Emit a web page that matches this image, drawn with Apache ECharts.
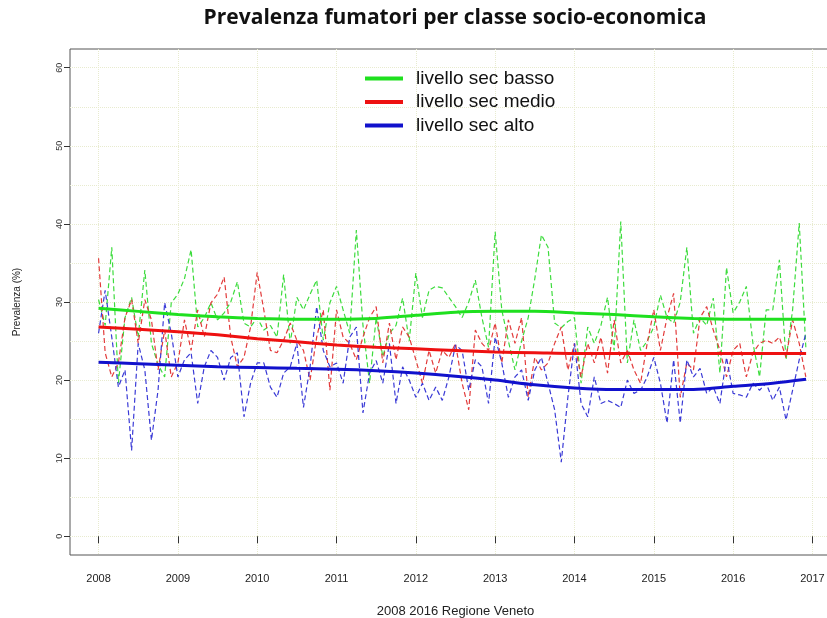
<!DOCTYPE html>
<html>
<head>
<meta charset="utf-8">
<title>Prevalenza fumatori per classe socio-economica</title>
<script src="https://cdn.jsdelivr.net/npm/echarts@6/dist/echarts.min.js"></script>
<style>
  html, body { margin: 0; padding: 0; background: #fff; }
  #chart { width: 827px; height: 618px; }
</style>
</head>
<body>
<div id="chart"></div>
<script>
const seriesNames = ['livello sec basso', 'livello sec medio', 'livello sec alto']
const yearTicks = [2008, 2009, 2010, 2011, 2012, 2013, 2014, 2015, 2016, 2017]
const valueTicks = [0, 10, 20, 30, 40, 50, 60]
const gridValues = [0, 5, 10, 15, 20, 25, 30, 35, 40, 45, 50, 55, 60]
const firstYear = 2008

// valori mensili gen 2008 - dic 2016
const basso = [
  30.3, 27, 37, 19.6, 28, 30.6, 25.5, 34.1, 24.7, 22, 20.4, 29.9,
  31, 33, 36.7, 26.8, 28, 29.9, 27.7, 28.6, 30, 32.6, 27.3, 26.8,
  28, 26.4, 27, 25.5, 33.5, 24.7, 30.6, 29, 31, 32.8, 25.1, 29.9,
  32, 29, 26, 39.2, 27, 19.6, 28, 23, 26, 27, 30.5, 25,
  33.7, 28, 31.5, 32, 31.8, 30.6, 29.4, 28, 30, 32.8, 28, 24.2,
  39, 29, 25, 21.3, 25, 28, 33, 38.6, 37, 27.3, 26.7, 27.5,
  28, 19.6, 26.8, 24.7, 27, 30.6, 23.8, 40.3, 22.2, 27.7, 23.8, 25,
  26.8, 30.9, 28, 27.3, 30, 37, 26, 28, 27, 30.5, 20.9, 34.4,
  28.6, 30, 32, 24.7, 20.4, 29, 29, 35.4, 22.6, 29, 40.1, 24.2
]
const medio = [
  35.6, 23.5, 20.4, 22.2, 28, 30.3, 24.7, 30.3, 27.7, 21.3, 26.4, 20.4,
  22.2, 27.7, 23.8, 29, 25.5, 29.9, 31, 33.2, 25.5, 21.7, 22.9, 26.8,
  33.8, 29, 23.8, 23.5, 25.1, 27.3, 25.1, 23.8, 20, 25.5, 29, 18.7,
  29, 25.5, 24.7, 22.6, 25.5, 28, 29.4, 22.2, 27.3, 22.6, 26.8, 25.5,
  22.6, 19.6, 23.8, 20.9, 23.8, 22.9, 24.7, 19.6, 16.2, 26.4, 24.7, 23.8,
  27.3, 22.2, 27.7, 24.7, 28, 17.8, 22.9, 21.3, 22.2, 24.7, 26.8, 21.3,
  24.7, 20.4, 24.7, 22.2, 25.5, 20.9, 27.7, 22.2, 23.8, 21.3, 19.6, 24.7,
  29, 23.8, 28, 31.1, 17.8, 22.2, 21.3, 28, 29.4, 26.4, 23.8, 20.4,
  23.8, 24.7, 20.4, 23.5, 24.7, 25.1, 24.7, 25.5, 22.9, 27.7, 24.7, 20.4
]
const alto = [
  26, 31.5, 25.5, 19.1, 21.3, 11, 24.7, 21.3, 12.3, 18.7, 29.9, 26,
  20.4, 22.6, 23.5, 17, 21.7, 23.8, 22.9, 20, 22.9, 23.5, 15.3, 19.6,
  22.2, 22.2, 19.1, 17.8, 20.9, 21.7, 24.7, 16.5, 21.7, 29.4, 23.8, 21.7,
  22.2, 19.6, 25.5, 26.8, 15.8, 20.9, 22.5, 19.6, 24.7, 17, 21.7, 20,
  17.8, 19.6, 17.4, 19.1, 17.4, 20.4, 24.5, 23.8, 18.7, 22.6, 21.7, 17,
  25.5, 22.2, 17.8, 20.4, 21.3, 17.4, 21.3, 22.9, 19.6, 16.2, 9.5, 17.8,
  24.7, 17, 15.3, 20.4, 17, 17.4, 17, 16.5, 20, 18.3, 18.7, 20.4,
  22.9, 19.6, 14.5, 22.6, 14.5, 22.6, 20.4, 21.5, 18.3, 19.1, 17, 22.9,
  18.3, 18.1, 17.8, 19.6, 18.7, 19.6, 17.4, 19.1, 14.9, 18.7, 22.6, 26
]

// curve di tendenza, lette ogni sei mesi
const trendYears = [2008, 2008.5, 2009, 2009.5, 2010, 2010.5, 2011, 2011.5, 2012, 2012.5,
  2013, 2013.5, 2014, 2014.5, 2015, 2015.5, 2016, 2016.5, 2016.92]
const trendBasso = [29.2, 28.8, 28.4, 28.1, 27.9, 27.8, 27.8, 27.9, 28.3, 28.7,
  28.8, 28.8, 28.6, 28.4, 28.1, 27.9, 27.8, 27.8, 27.8]
const trendMedio = [26.8, 26.5, 26.2, 25.8, 25.3, 24.9, 24.5, 24.2, 24.0, 23.8,
  23.6, 23.5, 23.4, 23.4, 23.4, 23.4, 23.4, 23.4, 23.4]
const trendAlto = [22.3, 22.1, 21.9, 21.7, 21.6, 21.5, 21.4, 21.2, 20.9, 20.5,
  20.0, 19.4, 19.0, 18.8, 18.8, 18.8, 19.2, 19.6, 20.1]

const monthly = values => values.map((v, i) => [firstYear + i / 12, v])
const pairs = (xs, ys) => xs.map((x, i) => [x, ys[i]])

const dashColors = ['#3ddc3d', '#e23b3b', '#3a3ad6']
const trendColors = ['#1fe01f', '#ee1111', '#1111cc']

const chart = echarts.init(document.getElementById('chart'))

const dashedSeries = [basso, medio, alto].map((values, i) => ({
  name: seriesNames[i] + ' (mensile)',
  type: 'line',
  data: monthly(values),
  symbol: 'none',
  silent: true,
  lineStyle: { width: 1.2, type: [5, 3], color: dashColors[i] },
  itemStyle: { color: dashColors[i] }
}))

const trendSeries = [trendBasso, trendMedio, trendAlto].map((values, i) => ({
  name: seriesNames[i],
  type: 'line',
  data: pairs(trendYears, values),
  symbol: 'none',
  smooth: 0.3,
  z: 5,
  lineStyle: { width: 3, color: trendColors[i] },
  itemStyle: { color: trendColors[i] }
}))

const option = {
  backgroundColor: '#fff',
  animation: false,
  graphic: [
    {
      type: 'text',
      x: 455,
      y: 18,
      style: {
        text: 'Prevalenza fumatori per classe socio-economica',
        font: 'bold 21px "Open Sans", sans-serif',
        fill: '#111',
        textAlign: 'center',
        textVerticalAlign: 'middle'
      }
    }
  ],
  legend: {
    data: seriesNames,
    orient: 'vertical',
    left: 360,
    top: 64,
    icon: 'rect',
    itemWidth: 38,
    itemHeight: 4,
    itemGap: 4.5,
    textStyle: {
      fontFamily: '"Liberation Sans", Arial, sans-serif',
      fontSize: 19,
      lineHeight: 19,
      color: '#111',
      padding: [0, 0, 0, 8]
    }
  },
  grid: {
    left: 70,
    top: 49,
    width: 771,
    height: 506,
    outerBoundsMode: 'none',
    containLabel: false,
    show: true,
    borderColor: '#555',
    borderWidth: 1
  },
  xAxis: {
    type: 'value',
    min: 2007.64,
    max: 2017.36,
    name: '2008 2016 Regione Veneto',
    nameLocation: 'middle',
    nameGap: 50,
    nameTextStyle: { fontFamily: '"Liberation Sans Narrow", "Liberation Sans", sans-serif', fontSize: 13, color: '#222' },
    axisLine: { show: false },
    axisTick: { show: true, length: 7, customValues: yearTicks, lineStyle: { color: '#333' } },
    axisLabel: {
      customValues: yearTicks,
      formatter: v => String(v),
      margin: 18,
      fontFamily: '"Liberation Sans Narrow", "Liberation Sans", sans-serif',
      fontSize: 11,
      color: '#222'
    },
    splitLine: { show: true, lineStyle: { color: '#e8ebcf', type: 'dotted', width: 1 } }
  },
  yAxis: [
    {
      type: 'value',
      min: -2.4,
      max: 62.4,
      name: 'Prevalenza (%)',
      nameLocation: 'middle',
      nameGap: 48,
      nameRotate: 90,
      nameTextStyle: { fontFamily: '"Liberation Sans", sans-serif', fontSize: 10, color: '#222' },
      axisLine: { show: false },
      axisTick: { show: true, length: 6, customValues: valueTicks, lineStyle: { color: '#333' } },
      axisLabel: {
        customValues: valueTicks,
        rotate: 90,
        margin: 6,
        fontFamily: '"Liberation Sans", sans-serif',
        fontSize: 9,
        color: '#333'
      },
      splitLine: { show: false }
    },
    {
      type: 'value',
      min: -2.4,
      max: 62.4,
      position: 'left',
      axisLine: { show: false },
      axisTick: { show: false, customValues: gridValues },
      axisLabel: { show: false },
      splitLine: { show: true, lineStyle: { color: '#e8ebcf', type: 'dotted', width: 1 } }
    }
  ],
  series: [...dashedSeries, ...trendSeries]
}

chart.setOption(option)
</script>
</body>
</html>
